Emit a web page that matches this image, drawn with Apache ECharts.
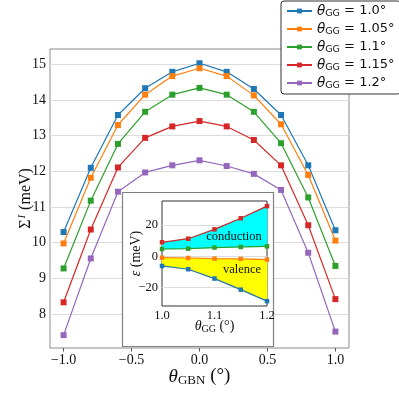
<!DOCTYPE html>
<html>
<head>
<meta charset="utf-8">
<script src="https://cdn.jsdelivr.net/npm/echarts@6/dist/echarts.min.js"></script>
<style>
html, body { margin: 0; padding: 0; background: #fff; }
#chart { width: 399px; height: 399px; }
</style>
</head>
<body>
<div id="chart"></div>
<script>
// main panel: Sigma^I vs theta_GBN for several theta_GG
var thetaGBN = [-1.0, -0.8, -0.6, -0.4, -0.2, 0.0, 0.2, 0.4, 0.6, 0.8, 1.0];
var sigma10  = [10.30, 12.10, 13.58, 14.33, 14.79, 15.03, 14.79, 14.31, 13.58, 12.17, 10.35];
var sigma105 = [9.98, 11.82, 13.30, 14.15, 14.67, 14.89, 14.67, 14.13, 13.32, 11.90, 10.06];
var sigma11  = [9.28, 11.18, 12.77, 13.67, 14.15, 14.34, 14.15, 13.67, 12.79, 11.27, 9.35];
var sigma115 = [8.33, 10.37, 12.11, 12.94, 13.26, 13.41, 13.26, 12.88, 12.17, 10.49, 8.42];
var sigma12  = [7.41, 9.56, 11.43, 11.97, 12.17, 12.31, 12.15, 11.93, 11.48, 9.72, 7.51];
var ggLabels = ['1.0', '1.05', '1.1', '1.15', '1.2'];
var xTicks = [-1.0, -0.5, 0.0, 0.5, 1.0];
var yTicks = [8, 9, 10, 11, 12, 13, 14, 15];

// inset: band edges vs theta_GG
var thetaGG  = [1.0, 1.05, 1.1, 1.15, 1.2];
var condTop  = [9.0, 11.3, 17.3, 24.4, 32.2];
var condBot  = [4.7, 4.9, 5.6, 6.0, 6.4];
var valTop   = [-0.9, -1.1, -1.5, -1.7, -2.1];
var valBot   = [-6.2, -8.3, -14.3, -21.4, -28.8];
var insetXTicks = [1.0, 1.1, 1.2];
var insetYTicks = [-20, 0, 20];

var colors = ['#1f77b4', '#ff7f0e', '#2ca02c', '#d62728', '#9467bd'];
var serif = 'Liberation Serif';

function pairs(xs, ys) {
  return xs.map(function (x, i) { return [x, ys[i]]; });
}
function minus(v) {
  return String(v).replace('-', '\u2212');
}

var mainData = [sigma10, sigma105, sigma11, sigma115, sigma12];
var series = [];
for (var i = 0; i < mainData.length; i++) {
  series.push({
    name: ggLabels[i],
    type: 'line',
    xAxisIndex: 0,
    yAxisIndex: 0,
    data: pairs(thetaGBN, mainData[i]),
    symbol: 'rect',
    symbolSize: 6,
    color: colors[i],
    lineStyle: { width: 1.2 },
    animation: false
  });
}

// filled band between two curves, one quad per segment
function segments(xs, top, bot) {
  var out = [];
  for (var j = 0; j < xs.length - 1; j++) {
    out.push([xs[j], xs[j + 1], top[j], top[j + 1], bot[j], bot[j + 1]]);
  }
  return out;
}
function bandItem(params, api) {
  var pts = [
    api.coord([api.value(0), api.value(2)]),
    api.coord([api.value(1), api.value(3)]),
    api.coord([api.value(1), api.value(5)]),
    api.coord([api.value(0), api.value(4)])
  ];
  var c = api.visual('color');
  return { type: 'polygon', shape: { points: pts }, style: { fill: c, stroke: c, lineWidth: 0.6 } };
}
function band(name, top, bot, fill) {
  return {
    name: name, type: 'custom', xAxisIndex: 1, yAxisIndex: 1, zlevel: 1, z: 3,
    renderItem: bandItem, data: segments(thetaGG, top, bot),
    encode: { x: [0, 1], y: [2, 3, 4, 5] },
    color: fill, silent: true, animation: false
  };
}
series.push(band('cond', condTop, condBot, '#00ffff'));
series.push(band('val', valTop, valBot, '#ffff00'));

var insetLines = [[condTop, colors[3]], [condBot, colors[2]], [valTop, colors[1]], [valBot, colors[0]]];
insetLines.forEach(function (d, k) {
  series.push({
    name: 'inset' + k, type: 'line', xAxisIndex: 1, yAxisIndex: 1, zlevel: 1, z: 5,
    data: pairs(thetaGG, d[0]), symbol: 'rect', symbolSize: 4.5,
    color: d[1], lineStyle: { width: 1.2 }, animation: false
  });
});

var chart = echarts.init(document.getElementById('chart'));
var option = {
  backgroundColor: '#fff',
  animation: false,
  legend: {
    data: ggLabels,
    orient: 'vertical',
    left: 281,
    top: 1,
    zlevel: 2,
    padding: [2, 6, 3, 5],
    itemGap: 2,
    itemWidth: 25,
    itemHeight: 6,
    backgroundColor: '#fff',
    borderColor: '#333',
    borderWidth: 1,
    borderRadius: 3,
    formatter: function (name) {
      return '{th|\u03b8}{sub|GG}{eq| = ' + name + '\u00b0}';
    },
    textStyle: {
      fontFamily: 'DejaVu Sans',
      fontSize: 13,
      color: '#111',
      lineHeight: 16,
      rich: {
        th: { fontFamily: 'DejaVu Sans', fontStyle: 'italic', fontSize: 13.5, color: '#111' },
        sub: { fontFamily: 'DejaVu Sans', fontSize: 9.5, padding: [6, 0, 0, 0], color: '#111' },
        eq: { fontFamily: 'DejaVu Sans', fontSize: 13, color: '#111' }
      }
    }
  },
  grid: [
    { left: 50, right: 50, top: 49, bottom: 51, show: true, borderColor: '#8c8c8c', borderWidth: 1, backgroundColor: 'transparent' },
    { left: 162, top: 201, width: 105, height: 105, show: true, borderColor: '#333', borderWidth: 1, zlevel: 1, z: 1 }
  ],
  xAxis: [
    {
      type: 'value', gridIndex: 0, min: -1.1, max: 1.1,
      name: '{th|\u03b8}{sub|GBN}{eq| (\u00b0)}',
      nameLocation: 'middle', nameGap: 18, nameMoveOverlap: false,
      nameTextStyle: {
        rich: {
          th: { fontFamily: serif, fontStyle: 'italic', fontSize: 19, color: '#111' },
          sub: { fontFamily: serif, fontSize: 13, padding: [8, 0, 0, 0], color: '#111' },
          eq: { fontFamily: serif, fontSize: 19, color: '#111' }
        }
      },
      axisLine: { show: false },
      axisTick: { show: true, length: 3.5, customValues: xTicks, lineStyle: { color: '#555' } },
      axisLabel: {
        customValues: xTicks, margin: 5, fontFamily: serif, fontSize: 14, color: '#111',
        formatter: function (v) { return minus(v.toFixed(1)); }
      },
      splitLine: { show: false }
    },
    {
      type: 'value', gridIndex: 1, min: 1.0, max: 1.2, zlevel: 1, z: 2,
      name: '{th|\u03b8}{sub|GG}{eq| (\u00b0)}',
      nameLocation: 'middle', nameGap: 12, nameMoveOverlap: false,
      nameTextStyle: {
        rich: {
          th: { fontFamily: serif, fontStyle: 'italic', fontSize: 14, color: '#111' },
          sub: { fontFamily: serif, fontSize: 10, padding: [6, 0, 0, 0], color: '#111' },
          eq: { fontFamily: serif, fontSize: 14, color: '#111' }
        }
      },
      axisLine: { show: false },
      axisTick: { show: false, customValues: insetXTicks },
      axisLabel: {
        customValues: insetXTicks, margin: 3, fontFamily: serif, fontSize: 12.5, color: '#111',
        formatter: function (v) { return v.toFixed(1); }
      },
      splitLine: { show: false }
    }
  ],
  yAxis: [
    {
      type: 'value', gridIndex: 0, min: 7.05, max: 15.43,
      name: '{s|\u03a3}{sup|I}{eq| (meV)}',
      nameLocation: 'middle', nameGap: 15, nameRotate: 90, nameMoveOverlap: false,
      nameTextStyle: {
        rich: {
          s: { fontFamily: serif, fontSize: 16, color: '#111' },
          sup: { fontFamily: serif, fontStyle: 'italic', fontSize: 11, padding: [0, 1, 7, 1], color: '#111' },
          eq: { fontFamily: serif, fontSize: 16, color: '#111' }
        }
      },
      axisLine: { show: false },
      axisTick: { show: false, customValues: yTicks },
      axisLabel: { customValues: yTicks, margin: 4, fontFamily: serif, fontSize: 14, color: '#111' },
      splitLine: { show: true, lineStyle: { color: '#dcdcdc', width: 1 } }
    },
    {
      type: 'value', gridIndex: 1, min: -31.9, max: 35.5, zlevel: 1, z: 2,
      name: '{e|\u03b5}{eq| (meV)}',
      nameLocation: 'middle', nameGap: 19, nameRotate: 90, nameMoveOverlap: false,
      nameTextStyle: {
        rich: {
          e: { fontFamily: serif, fontStyle: 'italic', fontSize: 14, color: '#111' },
          eq: { fontFamily: serif, fontSize: 14, color: '#111' }
        }
      },
      axisLine: { show: false },
      axisTick: { show: false, customValues: insetYTicks },
      axisLabel: {
        customValues: insetYTicks, margin: 4, fontFamily: serif, fontSize: 12.5, color: '#111',
        formatter: function (v) { return minus(v); }
      },
      splitLine: { show: true, lineStyle: { color: '#dcdcdc', width: 1 } }
    }
  ],
  graphic: [
    {
      type: 'rect', zlevel: 1, z: 0, silent: true,
      shape: { x: 122.5, y: 192.5, width: 151, height: 154 },
      style: { fill: '#fff', stroke: '#808080', lineWidth: 1.2 }
    },
    {
      type: 'text', zlevel: 1, z: 50, x: 234, y: 237, silent: true,
      style: { text: 'conduction', fontFamily: serif, fontSize: 12.5, fill: '#111', align: 'center', verticalAlign: 'middle' }
    },
    {
      type: 'text', zlevel: 1, z: 50, x: 242, y: 270, silent: true,
      style: { text: 'valence', fontFamily: serif, fontSize: 12.5, fill: '#111', align: 'center', verticalAlign: 'middle' }
    }
  ],
  series: series
};
chart.setOption(option);
</script>
</body>
</html>
